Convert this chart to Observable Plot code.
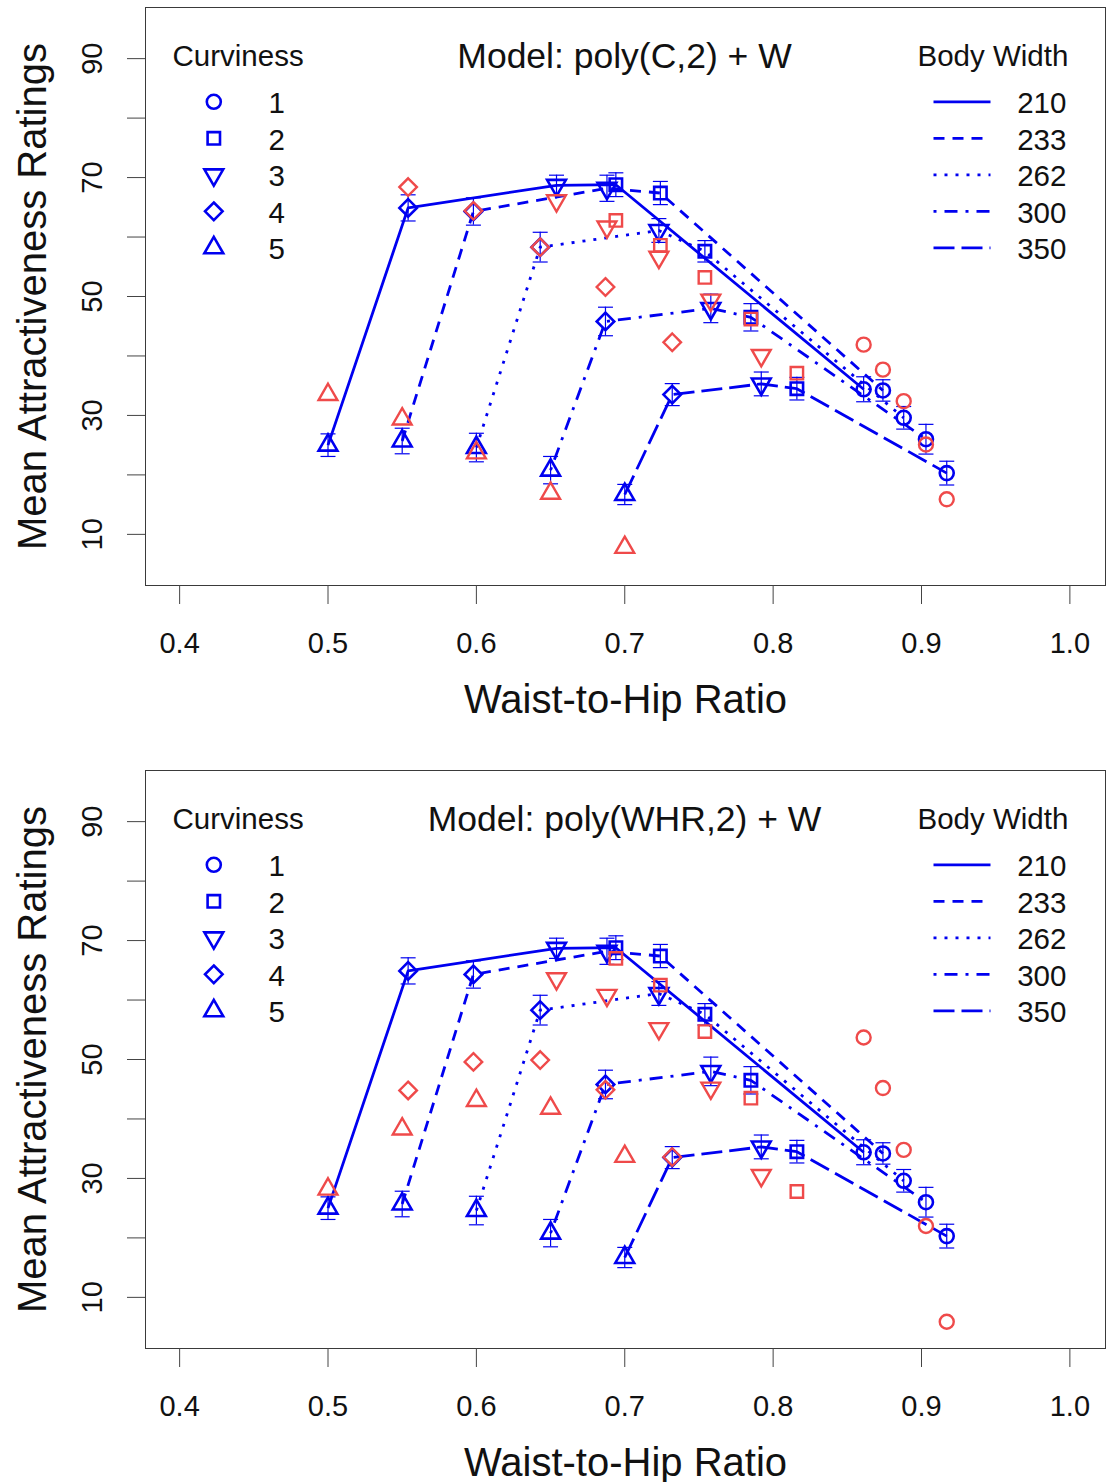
<!DOCTYPE html>
<html>
<head>
<meta charset="utf-8">
<script src="https://cdn.jsdelivr.net/npm/d3@7"></script>
<script src="https://cdn.jsdelivr.net/npm/@observablehq/plot@0.6"></script>
<style>
  body { margin: 0; background: #fff; }
  #chart svg { display: block; }
</style>
</head>
<body>
<div id="chart"></div>
<script>
// Body widths (one line each) and curviness levels (one symbol each)
const bodyWidths = [210, 233, 262, 300, 350];
const curvinessLevels = [1, 2, 3, 4, 5];

// Rows: body width 210, 233, 262, 300, 350; columns: curviness 1..5
const whr = [
  [0.861, 0.694, 0.654, 0.554, 0.500],
  [0.874, 0.724, 0.688, 0.598, 0.550],
  [0.888, 0.754, 0.723, 0.643, 0.600],
  [0.903, 0.785, 0.758, 0.687, 0.650],
  [0.917, 0.816, 0.792, 0.732, 0.700]
];
const observedMean = [
  [34.4, 68.8, 68.7, 64.9, 25.0],
  [34.2, 67.4, 68.2, 64.3, 25.7],
  [29.6, 57.6, 61.1, 58.3, 24.6],
  [26.0, 46.5, 48.0, 45.8, 20.8],
  [20.3, 34.5, 35.3, 33.5, 16.7]
];
const standardError = [
  [2.1, 2.0, 1.7, 2.2, 1.9],
  [1.8, 1.95, 2.2, 2.3, 2.15],
  [1.9, 1.8, 2.0, 2.5, 2.4],
  [2.5, 2.3, 2.4, 2.4, 2.3],
  [2.0, 1.9, 2.0, 1.85, 1.7]
];
// Fitted values, model poly(C,2) + W
const fitCurviness = [
  [41.9, 62.8, 66.1, 68.4, 33.5],
  [37.7, 58.6, 61.7, 64.4, 29.4],
  [32.4, 53.2, 56.6, 58.3, 23.7],
  [25.1, 46.2, 49.4, 51.6, 16.9],
  [15.9, 37.1, 40.1, 42.3, 7.8]
];
// Fitted values, model poly(WHR,2) + W
const fitWHR = [
  [53.7, 67.0, 63.6, 44.8, 28.2],
  [45.2, 62.5, 60.8, 49.6, 38.3],
  [34.8, 54.7, 55.2, 49.9, 43.1],
  [22.0, 43.5, 45.2, 44.9, 41.8],
  [5.9, 27.8, 30.5, 33.6, 33.7]
];
const xTicks = [0.4, 0.5, 0.6, 0.7, 0.8, 0.9, 1.0];
const yLabelTicks = [10, 30, 50, 70, 90];
const yMinorTicks = [20, 40, 60, 80];

const rows = [];
bodyWidths.forEach((w, i) => curvinessLevels.forEach((c, j) => rows.push({
  width: w, curv: c, whr: whr[i][j], mean: observedMean[i][j], se: standardError[i][j],
  fitC: fitCurviness[i][j], fitW: fitWHR[i][j]
})));

// R-style plotting symbols (pch 1, 0, 6, 5, 2); size is the area of the circle
const rad = s => Math.sqrt(s / Math.PI);
const poly = (c, pts) => { c.moveTo(pts[0][0], pts[0][1]); pts.slice(1).forEach(p => c.lineTo(p[0], p[1])); c.closePath(); };
const pchCircle = {draw(c, s) { const r = rad(s); c.moveTo(r, 0); c.arc(0, 0, r, 0, 2 * Math.PI); c.closePath(); }};
const pchSquare = {draw(c, s) { const h = rad(s) * 0.8862; poly(c, [[-h, -h], [h, -h], [h, h], [-h, h]]); }};
const pchTriDown = {draw(c, s) { const r = rad(s); poly(c, [[-1.3468 * r, -0.7776 * r], [1.3468 * r, -0.7776 * r], [0, 1.5551 * r]]); }};
const pchDiamond = {draw(c, s) { const d = rad(s) * 1.2533; poly(c, [[0, -d], [d, 0], [0, d], [-d, 0]]); }};
const pchTriUp = {draw(c, s) { const r = rad(s); poly(c, [[0, -1.5551 * r], [1.3468 * r, 0.7776 * r], [-1.3468 * r, 0.7776 * r]]); }};
const symbolOf = {1: pchCircle, 2: pchSquare, 3: pchTriDown, 4: pchDiamond, 5: pchTriUp};
// error-bar cap and legend line sample
const capMark = {draw(c) { c.moveTo(-7.5, 0); c.lineTo(7.5, 0); }};
const legendStroke = {draw(c) { c.moveTo(-28.5, 0); c.lineTo(28.5, 0); }};

const BLUE = "#0000f0";
const RED = "#ef4a4a";
const dashOf = {210: null, 233: "11,8", 262: "3,8", 300: "3,8,13,8", 350: "21,7"};
const R0 = 7;
const FONT = "'Liberation Sans', Arial, sans-serif";
const legendRows = [94.3, 130.8, 167.3, 203.8, 240.3];

function panel({title, fitKey, height, marginBottom}) {
  const marks = [
    Plot.frame({stroke: "#3a3a3a", strokeWidth: 1}),
    Plot.axisX({ticks: xTicks, tickFormat: d3.format(".1f"), tickSize: 19, tickPadding: 28,
      fontSize: 29, label: null, stroke: "#444", fill: "#111"}),
    Plot.axisY({ticks: yLabelTicks, tickRotate: -90, tickSize: 18, tickPadding: 26,
      fontSize: 29, label: null, stroke: "#444", fill: "#111"}),
    Plot.axisY({ticks: yMinorTicks, tickFormat: () => "", tickSize: 18, label: null, stroke: "#444"}),
    Plot.text(["Waist-to-Hip Ratio"], {text: d => d, frameAnchor: "bottom", dy: 127,
      fontSize: 40, lineAnchor: "bottom", fill: "#111"}),
    Plot.text(["Mean Attractiveness Ratings"], {text: d => d, frameAnchor: "left", dx: -100,
      rotate: -90, fontSize: 40, textAnchor: "middle", lineAnchor: "bottom", fill: "#111"}),
    Plot.text([title], {text: d => d, frameAnchor: "top", dy: 60, dx: -1, fontSize: 35.5,
      lineAnchor: "bottom", fill: "#111"}),
    // error bars
    Plot.ruleX(rows, {x: "whr", y1: d => d.mean - d.se, y2: d => d.mean + d.se, stroke: BLUE, strokeWidth: 1.2}),
    Plot.dot(rows, {x: "whr", y: d => d.mean + d.se, symbol: capMark, stroke: BLUE, strokeWidth: 1.2}),
    Plot.dot(rows, {x: "whr", y: d => d.mean - d.se, symbol: capMark, stroke: BLUE, strokeWidth: 1.2})
  ];
  // one line per body width, joining the observed means in WHR order
  bodyWidths.forEach(w => {
    const series = rows.filter(d => d.width === w).sort((a, b) => a.whr - b.whr);
    marks.push(Plot.line(series, {x: "whr", y: "mean", stroke: BLUE, strokeWidth: 2.8,
      strokeDasharray: dashOf[w], strokeLinecap: "butt"}));
  });
  // observed means (blue) and fitted values (red)
  curvinessLevels.forEach(c => {
    const pts = rows.filter(d => d.curv === c);
    marks.push(Plot.dot(pts, {x: "whr", y: "mean", symbol: symbolOf[c], r: R0, stroke: BLUE,
      strokeWidth: 2.6, fill: "none"}));
  });
  curvinessLevels.forEach(c => {
    const pts = rows.filter(d => d.curv === c);
    marks.push(Plot.dot(pts, {x: "whr", y: fitKey, symbol: symbolOf[c], r: R0, stroke: RED,
      strokeWidth: 2.4, fill: "none"}));
  });
  // curviness legend
  marks.push(Plot.text(["Curviness"], {text: d => d, frameAnchor: "top-left", dx: 27, dy: 58,
    textAnchor: "start", lineAnchor: "bottom", fontSize: 29.5, fill: "#111"}));
  curvinessLevels.forEach((c, j) => {
    marks.push(Plot.dot([c], {frameAnchor: "top-left", dx: 68.3, dy: legendRows[j], symbol: symbolOf[c],
      r: R0, stroke: BLUE, strokeWidth: 2.6, fill: "none"}));
    marks.push(Plot.text([c], {text: d => d, frameAnchor: "top-left", dx: 123, dy: legendRows[j] + 2,
      textAnchor: "start", lineAnchor: "middle", fontSize: 29.5, fill: "#111"}));
  });
  // body width legend
  marks.push(Plot.text(["Body Width"], {text: d => d, frameAnchor: "top-left", dx: 772, dy: 58,
    textAnchor: "start", lineAnchor: "bottom", fontSize: 29.5, fill: "#111"}));
  bodyWidths.forEach((w, i) => {
    marks.push(Plot.dot([w], {frameAnchor: "top-left", dx: 816.5, dy: legendRows[i], symbol: legendStroke,
      stroke: BLUE, strokeWidth: 2.8, strokeDasharray: dashOf[w], strokeLinecap: "butt", fill: "none"}));
    marks.push(Plot.text([w], {text: d => d, frameAnchor: "top-left", dx: 871.7, dy: legendRows[i] + 2,
      textAnchor: "start", lineAnchor: "middle", fontSize: 29.5, fill: "#111"}));
  });

  return Plot.plot({
    width: 1109,
    height,
    marginLeft: 145,
    marginRight: 4,
    marginTop: 7,
    marginBottom,
    style: {fontFamily: FONT, background: "#fff", overflow: "visible"},
    x: {domain: [0.377, 1.024]},
    y: {domain: [1.4, 98.6]},
    marks
  });
}

const chart = document.getElementById("chart");
chart.append(panel({title: "Model: poly(C,2) + W", fitKey: "fitC", height: 763, marginBottom: 178}));
chart.append(panel({title: "Model: poly(WHR,2) + W", fitKey: "fitW", height: 719, marginBottom: 134}));
</script>
</body>
</html>
